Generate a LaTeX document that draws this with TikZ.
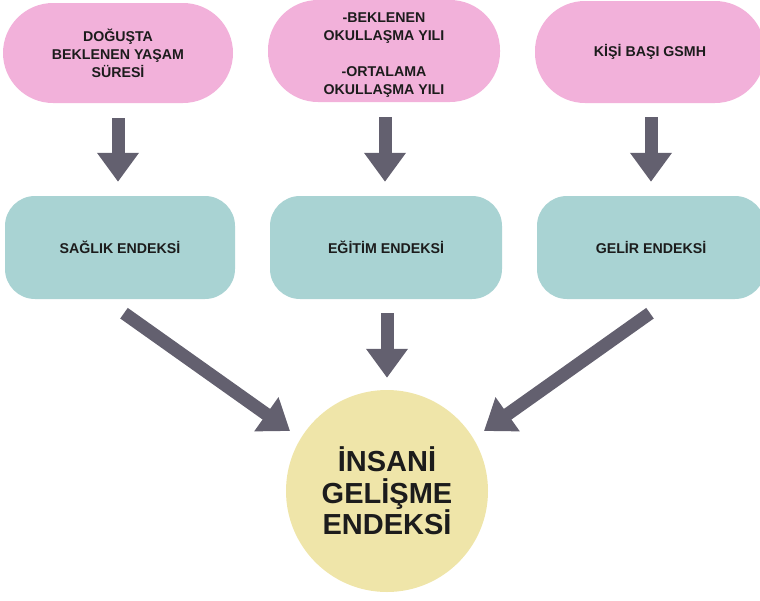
\documentclass[tikz,border=0pt]{standalone}
\usepackage{fontspec}
\setmainfont{Liberation Sans}
\usetikzlibrary{arrows.meta,calc}
\definecolor{pinkbox}{HTML}{F2B1DA}
\definecolor{tealbox}{HTML}{A9D3D3}
\definecolor{yellowc}{HTML}{EFE5A9}
\definecolor{arrowgray}{HTML}{63606F}
\definecolor{txt}{HTML}{1C1C1C}
\begin{document}
\begin{tikzpicture}[x=1pt,y=-1pt,
  boxtext/.style={inner sep=0pt, align=center, text=txt, font=\fontsize{14.2}{18}\selectfont\bfseries},
  inputbox/.style={boxtext, fill=pinkbox, rounded corners=50pt},
  indexbox/.style={boxtext, fill=tealbox, rounded corners=30pt, minimum height=103pt},
  resultc/.style={circle, fill=yellowc, inner sep=0pt, minimum size=202pt, align=center,
    text=txt, font=\fontsize{29}{31.5}\selectfont\bfseries},
  bigarrow/.style={draw=arrowgray, line width=13pt,
    -{Triangle[width=40pt,length=29pt]}}
]
\useasboundingbox (0,0) rectangle (760,600);
\clip (0,0) rectangle (760,600);

\node[inputbox, minimum width=230pt, minimum height=100pt] (p1) at (118,53)
  {DOĞUŞTA\\BEKLENEN YAŞAM\\SÜRESİ};
\node[inputbox, minimum width=232pt, minimum height=102pt] (p2) at (384,51) {};
\node[boxtext] (p2text) at (384,55.5)
  {-BEKLENEN\\OKULLAŞMA YILI\\[18pt]-ORTALAMA\\OKULLAŞMA YILI};
\node[inputbox, minimum width=230pt, minimum height=102pt] (p3) at (650,52)
  {KİŞİ BAŞI GSMH};

\node[indexbox, minimum width=230pt] (t1) at (120,247.5) {SAĞLIK ENDEKSİ};
\node[indexbox, minimum width=232pt] (t2) at (386,247.5) {EĞİTİM ENDEKSİ};
\node[indexbox, minimum width=228pt] (t3) at (651,247.5) {GELİR ENDEKSİ};

\node[resultc] (c) at (387,491) {İNSANİ\\GELİŞME\\ENDEKSİ};

\draw[bigarrow, shorten <=15pt, shorten >=14pt] (p1.south) -- (p1.south |- t1.north);
\draw[bigarrow, shorten <=15pt, shorten >=14pt] ($(p2.south)+(1,0)$) -- ($(p2.south |- t2.north)+(1,0)$);
\draw[bigarrow, shorten <=14pt, shorten >=14pt] ($(p3.south)+(1,0)$) -- ($(p3.south |- t3.north)+(1,0)$);

\draw[bigarrow, shorten <=14pt, shorten >=12pt] ($(t2.south)+(1,0)$) -- (c.north);
\draw[bigarrow] ($(t1.south)+(4,14)$) -- ($(c.center)+(-97,-60)$);
\draw[bigarrow] ($(t3.south)+(-1,14)$) -- ($(c.center)+(97,-60)$);
\end{tikzpicture}
\end{document}
